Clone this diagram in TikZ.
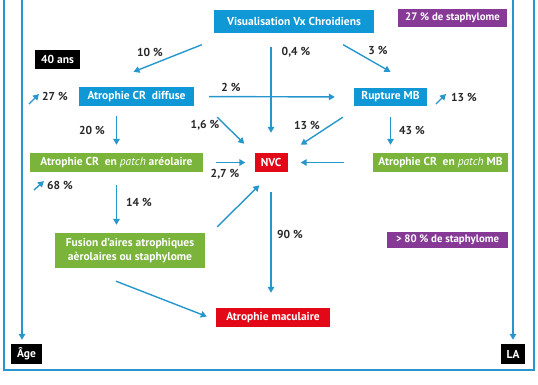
\documentclass[tikz,border=0pt]{standalone}
\usepackage{fontspec}
\setmainfont{PT Sans}
\usetikzlibrary{arrows.meta}

\definecolor{vblue}{RGB}{16,152,214}
\definecolor{lblue}{RGB}{38,150,205}
\definecolor{vgreen}{RGB}{122,180,58}
\definecolor{vred}{RGB}{226,8,24}
\definecolor{vpurple}{RGB}{134,58,150}
\definecolor{txtgray}{RGB}{40,40,40}

\newcommand{\patch}{{\mdseries\itshape patch}}

\begin{document}
\begin{tikzpicture}
  [x=1pt,y=-1pt,
    every node/.style={font=\bfseries\fontsize{11.5}{14.5}\selectfont,inner sep=0pt},
    box/.style={text=white,minimum height=19pt},
    bluebox/.style={box,fill=vblue},
    greenbox/.style={box,fill=vgreen},
    redbox/.style={box,fill=vred},
    purpbox/.style={box,fill=vpurple,font=\bfseries\fontsize{10.8}{13}\selectfont},
    blkbox/.style={box,fill=black},
    pct/.style={text=txtgray},
    arr/.style={draw=lblue,line width=1.4pt,-{Triangle[length=6pt,width=6.5pt]}},
    frame/.style={draw=lblue,line width=1.6pt},
  ]
  \useasboundingbox (0,0) rectangle (538,384);

  % boxes
  \node[bluebox,minimum width=160pt,minimum height=23pt] (visu) at (294,21) {Visualisation Vx Chroidiens};
  \node[purpbox,minimum width=109pt,minimum height=18pt] (stap27) at (452.5,18) {27 \% de staphylome};
  \node[blkbox,minimum width=45pt] (ans40) at (57.5,59.5) {40 ans};
  \node[bluebox,minimum width=115pt] (diffuse) at (136.5,96.5) {Atrophie CR~ diffuse};
  \node[bluebox,minimum width=73pt,minimum height=18pt] (rupture) at (390.5,97) {Rupture MB};
  \node[greenbox,minimum width=173pt] (areol) at (116.5,162.5) {Atrophie CR~ en \patch{} aréolaire};
  \node[redbox,minimum width=33pt] (nvc) at (271,162.5) {NVC};
  \node[greenbox,minimum width=135pt] (patchmb) at (440.5,162.5) {Atrophie CR~ en \patch{} MB};
  \node[greenbox,minimum width=150pt,minimum height=35pt,align=center] (fusion) at (130,250.5)
    {Fusion d'aires atrophiques\\aèrolaires ou staphylome};
  \node[purpbox,minimum width=121pt,minimum height=16pt] (stap80) at (447.5,240) {> 80 \% de staphylome};
  \node[redbox,minimum width=114pt] (macul) at (273,317.5) {Atrophie maculaire};
  \node[blkbox,minimum width=31pt,minimum height=20pt] (age) at (26.5,354) {Âge};
  \node[blkbox,minimum width=24pt,minimum height=20pt] (la) at (513,354) {LA};

  % percentages
  \node[pct] (p10) at (150,52) {10 \%};
  \node[pct] (p04) at (296,52) {0,4 \%};
  \node[pct] (p3) at (378,50) {3 \%};
  \node[pct] (p2) at (231,87) {2 \%};
  \node[pct] (p27) at (55,96) {27 \%};
  \node[pct] (p13a) at (464,97) {13 \%};
  \node[pct] (p20) at (92,130) {20 \%};
  \node[pct] (p16) at (205,125) {1,6 \%};
  \node[pct] (p13b) at (307,125) {13 \%};
  \node[pct] (p43) at (412,130) {43 \%};
  \node[pct] (p68) at (60,185) {68 \%};
  \node[pct] (p27b) at (225,174) {2,7 \%};
  \node[pct] (p14) at (139,202) {14 \%};
  \node[pct] (p90) at (290,234) {90 \%};

  % frame and side axes
  \coordinate (agetop) at (22,0);
  \coordinate (latop) at (513,0);
  \draw[frame] (4,0) |- (534,370) -- (534,0);
  \draw[arr,shorten >=4pt] (agetop) -- (agetop |- age.north);
  \draw[arr,shorten >=4pt] (latop) -- (latop |- la.north);

  % arrows
  \draw[arr] ([xshift=-12pt,yshift=-12pt]visu.south west) -- ([xshift=-3pt,yshift=15pt]diffuse.north);
  \draw[arr,shorten <=14pt,shorten >=20pt] (visu.south -| nvc.north) -- (nvc.north);
  \draw[arr] ([xshift=-31pt,yshift=-12pt]visu.south east) -- ([yshift=16pt]rupture.north);
  \draw[arr,shorten <=15pt,shorten >=19pt] (diffuse.east) -- (rupture.west);
  \draw[arr,shorten <=10pt,shorten >=8pt] (areol.north |- diffuse.south) -- (areol.north);
  \draw[arr] ([xshift=23pt,yshift=-11pt]diffuse.south east) -- ([xshift=-10pt,yshift=9pt]nvc.north west);
  \draw[arr] ([xshift=-11pt,yshift=-11pt]rupture.south west) -- ([xshift=13pt,yshift=8pt]nvc.north east);
  \draw[arr,shorten <=11pt,shorten >=8pt] (rupture.south) -- (rupture.south |- patchmb.north);
  \draw[arr,shorten <=13pt,shorten >=9pt] (areol.east) -- (nvc.west);
  \draw[arr,shorten <=29pt,shorten >=13pt] (patchmb.west) -- (nvc.east);
  \draw[arr,shorten <=13pt,shorten >=8pt] (areol.south) -- (areol.south |- fusion.north);
  \draw[arr] ([xshift=12pt,yshift=6pt]fusion.north east) -- ([xshift=5pt,yshift=-13pt]nvc.south west);
  \draw[arr,shorten <=20pt,shorten >=15pt] (nvc.south) -- (nvc.south |- macul.north);
  \draw[arr] ([xshift=-14pt,yshift=-13pt]fusion.south) -- ([xshift=-9pt,yshift=1pt]macul.west);

  % small rising arrows
  \draw[arr] ([xshift=-13pt,yshift=-8pt]p27.west) -- ([xshift=-3pt,yshift=2pt]p27.west);
  \draw[arr] ([xshift=-15pt,yshift=-7pt]p13a.west) -- ([xshift=-5pt,yshift=3pt]p13a.west);
  \draw[arr] ([xshift=-13pt,yshift=-5pt]p68.west) -- ([xshift=-3pt,yshift=4pt]p68.west);
\end{tikzpicture}
\end{document}
